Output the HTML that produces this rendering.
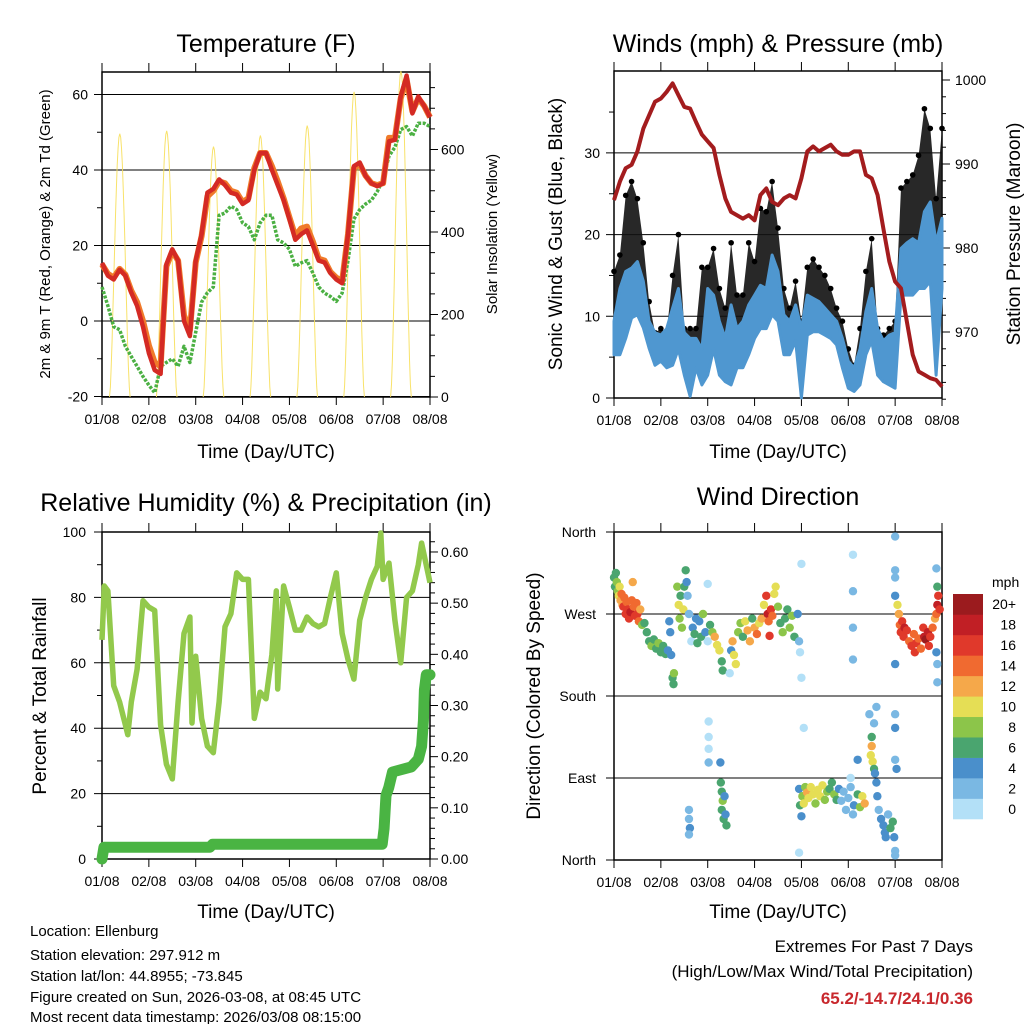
<!DOCTYPE html>
<html><head><meta charset="utf-8"><style>
html,body{margin:0;padding:0;background:#fff;}
svg{display:block;font-family:"Liberation Sans",sans-serif;}
</style></head><body>
<svg id="root" width="1024" height="1024" viewBox="0 0 1024 1024" xmlns="http://www.w3.org/2000/svg">
<text x="266" y="52" font-size="25" text-anchor="middle">Temperature (F)</text>
<text x="778" y="52" font-size="25" text-anchor="middle">Winds (mph) &amp; Pressure (mb)</text>
<text x="266" y="511" font-size="25" text-anchor="middle">Relative Humidity (%) &amp; Precipitation (in)</text>
<text x="778" y="505" font-size="25" text-anchor="middle">Wind Direction</text>
<text x="266" y="458" font-size="19" text-anchor="middle">Time (Day/UTC)</text>
<text x="778" y="458" font-size="19" text-anchor="middle">Time (Day/UTC)</text>
<text x="266" y="918" font-size="19" text-anchor="middle">Time (Day/UTC)</text>
<text x="778" y="918" font-size="19" text-anchor="middle">Time (Day/UTC)</text>
<text transform="translate(50,234) rotate(-90)" font-size="15" text-anchor="middle">2m &amp; 9m T (Red, Orange) &amp; 2m Td (Green)</text>
<text transform="translate(497,234) rotate(-90)" font-size="15" text-anchor="middle">Solar Insolation (Yellow)</text>
<text transform="translate(562,234) rotate(-90)" font-size="19" text-anchor="middle">Sonic Wind &amp; Gust (Blue, Black)</text>
<text transform="translate(1020,234) rotate(-90)" font-size="19" text-anchor="middle">Station Pressure (Maroon)</text>
<text transform="translate(46,696) rotate(-90)" font-size="19" text-anchor="middle">Percent &amp; Total Rainfall</text>
<text transform="translate(540,696) rotate(-90)" font-size="19" text-anchor="middle">Direction (Colored By Speed)</text>
<g font-size="15">
<text x="30" y="936">Location: Ellenburg</text>
<text x="30" y="960">Station elevation: 297.912 m</text>
<text x="30" y="981">Station lat/lon: 44.8955; -73.845</text>
<text x="30" y="1002">Figure created on Sun, 2026-03-08, at 08:45 UTC</text>
<text x="30" y="1022">Most recent data timestamp: 2026/03/08 08:15:00</text>
</g>
<g text-anchor="end">
<text x="973" y="952" font-size="17">Extremes For Past 7 Days</text>
<text x="973" y="977" font-size="17">(High/Low/Max Wind/Total Precipitation)</text>
<text x="973" y="1004" font-size="17" font-weight="bold" fill="#c8282d">65.2/-14.7/24.1/0.36</text>
</g>
</svg>
<script>
// ---------- data ----------
const dayLabels = ["01/08","02/08","03/08","04/08","05/08","06/08","07/08","08/08"];
const t3 = [0,0.125,0.25,0.375,0.5,0.625,0.75,0.875,1,1.125,1.25,1.375,1.5,1.625,1.75,1.875,2,2.125,2.25,2.375,2.5,2.625,2.75,2.875,3,3.125,3.25,3.375,3.5,3.625,3.75,3.875,4,4.125,4.25,4.375,4.5,4.625,4.75,4.875,5,5.125,5.25,5.375,5.5,5.625,5.75,5.875,6,6.125,6.25,6.375,6.5,6.625,6.75,6.875,7];
const temp2m = [15.4,12,11,13.6,12,7.5,4,-1.5,-8.5,-13,-14,15,19,16,0,-4,16,23,34,35,37.5,36,34,33.5,31,32,40,44.5,44.5,40,36,32,27,21.5,23,24,20,16,15.5,12.7,11,10,23,41,42,38.4,36.5,35.7,36.5,47.6,48,59.5,65,55,59.5,57,54];
const temp9m = [15,12.5,11.5,13.8,12.3,8,5,0,-6.5,-11,-12,14.5,18.5,16,1.5,-2.5,15.5,22.5,33,34.5,37,36.5,34.5,34,31.5,32.5,40.5,44.5,44.5,41,37,32.5,27.5,22.5,24.5,25,21,16.5,16,13,11.5,10.5,23,40.5,41.5,38.5,36.5,36,36.5,48.5,48.5,59,64,55.5,59,57,54];
const dewpt = [9,4,-1.5,-2.3,-6.7,-9.4,-12,-14.7,-17,-19,-12,-11,-10,-12,-6.7,-11,-3,5,7.5,9,28,28.6,30.4,29.5,26,25,21.5,26,28,28,21.5,20.7,19,14.5,15.4,16,12.7,9,7.4,6.5,5.2,7.4,16,27,29.5,31,32,34.3,37.5,43.7,46,50.7,51.5,49,52.4,52.4,51.5];
const solarPeak = [638,645,607,634,658,740,790];
const windLo = [5.3,5.3,7.3,9.8,10.2,8.6,6.1,4,4.5,3.7,4,6,2.8,0.2,3.7,1.6,2.8,6,2.8,2,1.6,3.7,3.7,5.3,7.3,8.5,8.5,10.2,9.4,5.3,5.3,7,0,7.7,8.1,8.1,7.7,7.3,6.5,3.7,1.2,0.8,1.6,5.3,7,2.8,2,1.6,1.2,12.6,12.6,12.6,13.4,13.4,14.3,2.8,13.4];
const windHi = [9.4,13.4,15.5,15.9,16.7,14.3,9.4,8,7.7,8.5,11,13.4,8,7.3,7.3,6,13.4,12.6,9.4,7.3,11.4,8.5,9.4,11.4,12.6,13.8,13.4,17.5,15.5,10.2,9.4,11.4,8.5,12.6,12.2,11.8,11,10.2,9.4,7.3,4.5,3.7,6,10.6,13.4,8.5,7,7.7,8,18.3,19,19.5,19,22.8,24,19,22];
const gustHi = [15.5,17.5,24.8,26.5,24.4,19,11.8,8,8.5,8,15,20,8.5,8.5,8.5,16,16,18.3,13.4,11,19,12.6,12.6,19,16.7,23.2,22.8,26.5,20.8,13.4,11,14.3,9.4,16,17,16,15,13.4,11,9.4,6,4,8.5,15.5,19.5,8.5,7.7,8.5,9.4,25.7,26.5,27.3,29.7,35.4,33,24.4,33];
const pressure = [985.7,987.9,989.5,989.9,991.5,994.2,995.8,997.4,997.8,998.6,999.6,998.2,996.8,996.6,995,993.5,992.7,991.9,988.7,985.9,984.3,983.9,983.5,983.9,983.3,986.3,987.1,985.5,985.1,985.9,986.3,985.9,988.3,991.5,992.1,991.5,991.9,992.3,991.5,991.1,991.1,991.5,991.5,988.7,988.3,986.3,982.3,978.4,976,975.2,971.2,967.3,965.3,964.9,964.5,964.3,963.5];
const rhTimes = [0,0.05,0.125,0.25,0.375,0.5,0.55,0.625,0.75,0.875,1,1.125,1.25,1.375,1.5,1.625,1.75,1.875,1.92,2,2.125,2.25,2.375,2.5,2.625,2.75,2.875,3,3.125,3.25,3.375,3.5,3.625,3.72,3.75,3.875,4,4.125,4.25,4.375,4.5,4.625,4.75,4.875,5,5.125,5.25,5.375,5.5,5.625,5.75,5.875,5.95,6,6.125,6.25,6.375,6.5,6.625,6.75,6.82,7];
const rhValues = [67,83.5,82,53,48,41,38,48,58,79,77,76,41,29,24.5,48,69,74,41.6,62,43,34.5,32.5,48,71,75,87.5,85.5,85.5,43,51,49,62.5,82,52,83.5,77,70,70,74,72,71,72,80,87.5,69,61,55,73,80,85.5,89.5,99.7,85.5,90.5,73,60,80,82,90,96.6,84.5];
const precipTimes = [0,0.04,2.3,2.36,5.98,6.02,6.06,6.12,6.2,6.6,6.75,6.82,6.86,6.88,6.92,7];
const precipValues = [0,0.023,0.023,0.029,0.029,0.06,0.124,0.14,0.17,0.18,0.195,0.22,0.27,0.33,0.36,0.36];
const speedBins = ["0","2","4","6","8","10","12","14","16","18","20+"];
const speedColors = ["#b3e0f7","#7ab8e3","#4a8fcb","#4aa56f","#8cc54a","#e5de55","#f5a84a","#f06a30","#e0392b","#c11f25","#9b1b1e"];
const dirLabels = ["North","East","South","West","North"];
const windDirObs = [[0,310,7],[0.02,300,6],[0.04,315,7],[0.06,305,8],[0.08,295,9],[0.1,290,10],[0.12,300,11],[0.14,285,12],[0.16,292,14],[0.18,280,13],[0.2,278,16],[0.22,288,15],[0.25,270,16],[0.27,283,14],[0.3,275,17],[0.32,265,16],[0.35,272,18],[0.38,285,14],[0.4,305,13],[0.42,278,15],[0.45,268,17],[0.48,282,15],[0.5,270,16],[0.53,262,14],[0.56,275,12],[0.6,258,8],
[0.65,260,7],[0.7,250,7],[0.75,240,6],[0.8,235,8],[0.85,242,7],[0.9,232,6],[0.95,238,8],[1.0,228,7],[1.05,235,6],[1.1,226,7],[1.15,230,5],[1.18,262,4],[1.2,250,5],[1.22,225,4],[1.25,200,7],[1.27,193,6],[1.28,205,8],
[1.35,300,8],[1.38,280,10],[1.4,265,9],[1.42,290,7],[1.45,255,8],[1.48,275,10],[1.5,300,7],[1.53,318,6],[1.55,305,4],[1.57,290,3],[1.6,270,2],
[1.65,240,1],[1.68,255,5],[1.72,248,6],[1.75,265,4],[1.78,238,7],[1.82,262,5],[1.86,245,6],[1.9,270,8],[1.95,250,4],[2.0,303,1],[2.0,240,1],[2.05,258,6],[2.1,250,9],[2.15,245,12],[2.2,236,11],[2.25,230,10],[2.3,218,6],[2.32,208,6],
[2.5,230,4],[2.53,240,12],[2.56,225,10],[2.6,215,11],[2.65,250,8],[2.7,260,9],[2.75,245,7],[2.8,262,10],[2.85,252,12],[2.9,240,13],[2.95,265,7],[3.0,255,12],[3.05,248,14],[3.1,260,10],[3.15,265,12],[3.2,280,10],[3.25,290,16],[3.28,270,18],[3.3,262,14],[3.32,246,16],[3.35,275,17],[3.38,268,14],[3.42,292,10],[3.45,300,11],
[3.5,278,8],[3.55,260,7],[3.6,250,8],[3.65,265,6],[3.7,275,7],[3.75,255,8],[3.8,268,8],[3.85,245,7],[3.92,270,5],[3.95,240,2],[3.97,228,1],[4.0,325,1],
[1.6,55,3],[1.6,45,3],[1.62,35,4],[1.6,28,3],[2.02,152,1],[2.02,135,1],[2.02,122,1],[2.02,107,2],[2.27,107,4],
[2.28,85,6],[2.3,75,7],[2.32,65,8],[2.3,55,7],[2.34,45,6],[2.36,70,5],[2.38,50,4],[2.4,38,6],[2.47,205,1],
[3.95,78,4],[3.97,60,6],[4.0,48,4],[4.02,70,8],[4.05,62,10],[4.08,80,9],[4.12,74,12],[4.15,68,10],[4.2,80,11],[4.25,72,10],[4.3,62,9],[4.35,77,11],[4.4,70,10],[4.45,82,10],[4.5,66,9],[4.55,75,8],[4.6,78,7],[4.65,85,6],[4.7,72,8],[4.75,66,7],[4.8,78,5],[4.85,65,3],[4.9,75,2],[4.95,55,2],[5.0,68,2],[5.05,80,3],[5.1,50,2],[5.12,60,4],[5.2,72,6],[5.25,58,8],[5.3,70,11],[5.35,62,12],
[5.5,125,12],[5.48,115,11],[5.52,108,10],[5.5,135,7],[5.55,100,6],[5.57,95,5],[5.6,85,4],[5.62,70,4],[5.65,55,3],[5.7,45,4],[5.75,38,4],[5.78,30,5],[5.8,25,4],[5.85,50,3],[5.9,35,6],[5.95,42,6],[5.98,25,4],[6.0,10,3],[6.0,5,2],
[5.1,335,1],[5.1,295,2],[5.1,255,2],[5.1,220,2],[4.0,200,1],[4.05,145,1],[3.95,8,1],
[6.0,355,2],[6.0,318,3],[6.0,310,2],[6.0,290,4],[6.0,215,4],[6.0,160,2],[6.0,145,4],[6.0,110,3],[6.03,100,4],[5.55,150,3],[5.45,160,2],[5.2,110,4],[5.05,90,1],[5.6,168,2],
[6.05,280,10],[6.08,270,12],[6.1,258,14],[6.12,250,16],[6.15,262,17],[6.18,245,16],[6.2,255,18],[6.25,252,16],[6.3,240,14],[6.35,235,16],[6.4,248,15],[6.42,228,17],[6.45,238,16],[6.5,243,14],[6.55,232,15],[6.6,255,17],[6.62,245,19],[6.65,242,20],[6.7,250,19],[6.72,235,17],[6.75,245,16],[6.8,255,14],[6.85,265,13],[6.88,270,15],[6.9,280,18],[6.92,290,16],[6.9,300,7],[6.88,320,3],[6.9,215,3],[6.9,195,3],[6.88,228,4],[6.95,275,17]];

// ---------- scales ----------
const NS = "http://www.w3.org/2000/svg";
const root = document.getElementById("root");
function mk(tag, attrs, parent){const e=document.createElementNS(NS,tag);for(const k in attrs)e.setAttribute(k,attrs[k]);(parent||root).appendChild(e);return e;}
const xL = d => 102 + d*328/7;
const xR = d => 614 + d*328/7;
const yT = v => 321 - v*3.775;
const ySol = v => 397 - v*0.4125;
const yW = v => 398 - v*8.17;
const yP = mb => 80 + (1000-mb)*8.4;
const yRH = v => 859 - v*3.27;
const yPr = v => 859 - v*511.7;
const yD = deg => 860 - deg*328/360;
function pathOf(xs, ys, xf, yf){return xs.map((t,i)=>(i?"L":"M")+xf(t).toFixed(1)+","+yf(ys[i]).toFixed(1)).join("");}

function frame(name, L, T, R, B, xf){
  const g = mk("g",{});
  
  
  dayLabels.forEach((lab,i)=>{
    const x = xf(i);
    mk("line",{x1:x,y1:T-9,x2:x,y2:T,stroke:"#000","stroke-width":1},g);
    mk("line",{x1:x,y1:B,x2:x,y2:B+8,stroke:"#000","stroke-width":1},g);
    const tx = mk("text",{x:x,y:B+27,"font-size":14,"text-anchor":"middle"},g);
    
    
    tx.textContent = lab;
  });
  return g;
}
function hgrid(g, y, L, R){mk("line",{x1:L,y1:y,x2:R,y2:y,stroke:"#000","stroke-width":1},g);}
function border(g,L,T,R,B){mk("rect",{x:L,y:T,width:R-L,height:B-T,fill:"none",stroke:"#000","stroke-width":1.5},g);}
function label(g, x, y, txt, anchor, name){const t=mk("text",{x:x,y:y+5,"font-size":14,"text-anchor":anchor},g);t.textContent=txt;}

// ===== Panel 1 =====
const g1 = frame("temperature-axes",102,72,430,397,xL);
for(let v=-20; v<=60; v+=20){hgrid(g1,yT(v),94,430);label(g1,88,yT(v),String(v),"end","temp-y-tick");}
for(let v=-10; v<=60; v+=20){mk("line",{x1:97,y1:yT(v),x2:102,y2:yT(v),stroke:"#000"},g1);}
for(let v=0; v<=750; v+=50){const y=ySol(v);if(y<72)continue;mk("line",{x1:430,y1:y,x2:v%200===0?438:435,y2:y,stroke:"#000"},g1);if(v%200===0)label(g1,441,y,String(v),"start","solar-y-tick");}
const solarG = mk("g",{});


solarPeak.forEach((pk,d)=>{
  const pts=[];
  for(let k=0;k<=24;k++){const f=k/24;const t=d+0.16+f*0.44;pts.push((k?"L":"M")+xL(t).toFixed(1)+","+ySol(pk*Math.pow(Math.sin(Math.PI*f),1.6)).toFixed(1));}
  const p = mk("path",{d:pts.join(""),fill:"none",stroke:"#f7df5a","stroke-width":1,opacity:0.9},solarG);
  
  
});
const dp = mk("path",{d:pathOf(t3,dewpt,xL,yT),fill:"none",stroke:"#4bb043","stroke-width":3.5,"stroke-dasharray":"3 1.5","stroke-linejoin":"round"});


const t9 = mk("path",{d:pathOf(t3,temp9m,xL,yT),fill:"none",stroke:"#f07a2a","stroke-width":6,"stroke-linejoin":"round"});


const t2 = mk("path",{d:pathOf(t3,temp2m,xL,yT),fill:"none",stroke:"#d42a24","stroke-width":4.5,"stroke-linejoin":"round"});


border(g1,102,72,430,397);

// ===== Panel 2 =====
const g2 = frame("winds-axes",614,71,942,398,xR);
for(let v=0; v<=30; v+=10){hgrid(g2,yW(v),606,942);label(g2,600,yW(v),String(v),"end","wind-y-tick");}
for(let v=5; v<=35; v+=10){mk("line",{x1:609,y1:yW(v),x2:614,y2:yW(v),stroke:"#000"},g2);}
for(let mb=962; mb<=1000; mb+=2){const y=yP(mb);mk("line",{x1:942,y1:y,x2:mb%10===0?950:946,y2:y,stroke:"#000"},g2);if(mb%10===0)label(g2,955,y,String(mb),"start","pressure-y-tick");}
const gustPoly = t3.map((t,i)=>xR(t).toFixed(1)+","+yW(gustHi[i]).toFixed(1)).concat(t3.slice().reverse().map((t,j)=>{const i=t3.length-1-j;return xR(t).toFixed(1)+","+yW(windHi[i]).toFixed(1);})).join(" ");
const gp = mk("polygon",{points:gustPoly,fill:"#111",opacity:0.9});


t3.forEach((t,i)=>{
  const c = mk("circle",{cx:xR(t),cy:yW(gustHi[i]),r:2.8,fill:"#000"});
  
  
});
const windPoly = t3.map((t,i)=>xR(t).toFixed(1)+","+yW(windHi[i]).toFixed(1)).concat(t3.slice().reverse().map((t,j)=>{const i=t3.length-1-j;return xR(t).toFixed(1)+","+yW(windLo[i]).toFixed(1);})).join(" ");
const wp = mk("polygon",{points:windPoly,fill:"#4f97d0",stroke:"#4f97d0","stroke-width":3,"stroke-linejoin":"round"});


const pr = mk("path",{d:pathOf(t3,pressure,xR,yP),fill:"none",stroke:"#a31c1e","stroke-width":4,"stroke-linejoin":"round"});


border(g2,614,71,942,398);

// ===== Panel 3 =====
const g3 = frame("humidity-axes",102,532,430,859,xL);
for(let v=0; v<=100; v+=20){hgrid(g3,yRH(v),94,430);label(g3,86,yRH(v),String(v),"end","rh-y-tick");}
for(let v=10; v<=90; v+=20){mk("line",{x1:97,y1:yRH(v),x2:102,y2:yRH(v),stroke:"#000"},g3);}
for(let k=0;k<=32;k++){const v=k*0.02;const y=yPr(v);if(y<532)continue;mk("line",{x1:430,y1:y,x2:k%5===0?438:435,y2:y,stroke:"#000"},g3);if(k%5===0)label(g3,441,y,v.toFixed(2),"start","precip-y-tick");}
const rh = mk("path",{d:pathOf(rhTimes,rhValues,xL,yRH),fill:"none",stroke:"#92c94c","stroke-width":5.5,"stroke-linejoin":"round"});


const pc = mk("path",{d:pathOf(precipTimes,precipValues,xL,yPr),fill:"none",stroke:"#4ab443","stroke-width":11,"stroke-linejoin":"round","stroke-linecap":"round"});


border(g3,102,532,430,859);

// ===== Panel 4 =====
const g4 = frame("direction-axes",614,532,942,860,xR);
dirLabels.forEach((lab,i)=>{const y=yD(i*90);hgrid(g4,y,606,942);label(g4,596,y,lab,"end","direction-y-tick");});
windDirObs.forEach(o=>{
  const bin = Math.min(10, Math.floor(o[2]/2));
  const c = mk("circle",{cx:xR(o[0]),cy:yD(o[1]),r:4.2,fill:speedColors[bin]});
  
  
});
border(g4,614,532,942,860);
const cb = mk("g",{});


const bh = 225/speedBins.length;
speedBins.forEach((lab,i)=>{
  const y = 819 - (i+1)*bh;
  const r = mk("rect",{x:953,y:y,width:30,height:bh+0.3,fill:speedColors[i]},cb);
  
  
  const t = mk("text",{x:1016,y:y+bh/2+5,"font-size":14,"text-anchor":"end"},cb);
  
  
  t.textContent = lab;
});
const mph = mk("text",{x:992,y:587,"font-size":14},cb);


mph.textContent = "mph";
</script>
</body></html>
